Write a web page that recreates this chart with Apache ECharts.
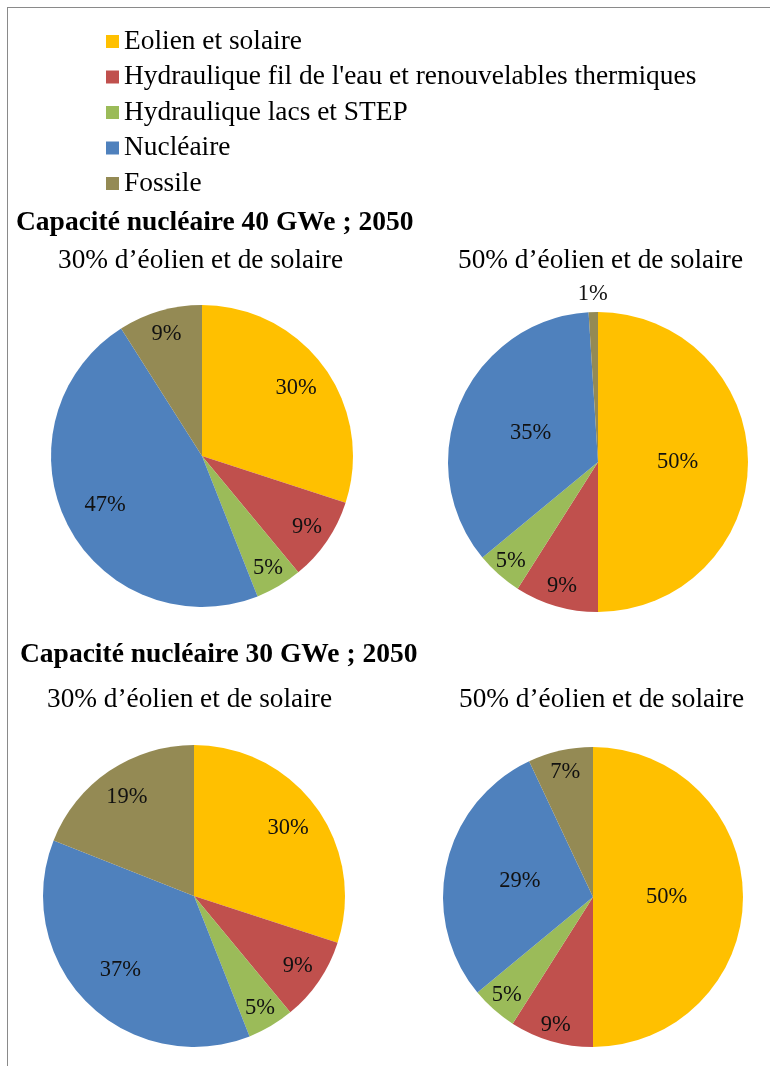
<!DOCTYPE html>
<html>
<head>
<meta charset="utf-8">
<script src="https://cdn.jsdelivr.net/npm/echarts/dist/echarts.min.js"></script>
<style>
html, body { margin:0; padding:0; background:#fff; }
#chart { width:770px; height:1066px; }
#frame { position:absolute; left:7px; top:7px; right:0; bottom:0; border-left:1px solid #8a8a8a; border-top:1px solid #8a8a8a; pointer-events:none; }
</style>
</head>
<body>
<div id="chart"></div>
<div id="frame"></div>
<script>
// categories (legend order = slice order, clockwise from 12 o'clock)
const categories = ['Eolien et solaire', "Hydraulique fil de l'eau et renouvelables thermiques", 'Hydraulique lacs et STEP', 'Nucléaire', 'Fossile'];
const colors = ['#FFC000', '#C0504D', '#9BBB59', '#4F81BD', '#948A54'];

// shares in %, same order as categories
const cap40_wind30 = [30, 9, 5, 47, 9];
const cap40_wind50 = [50, 9, 5, 35, 1];
const cap30_wind30 = [30, 9, 5, 37, 19];
const cap30_wind50 = [50, 9, 5, 29, 7];

const serif = '"Liberation Serif", "DejaVu Serif", serif';

// layout of the four pies (labelAt = label distance from centre / radius)
const pies = [
    { values: cap40_wind30, center: [202, 456], r: 151, labelAt: [0.75, 0.82, 0.84, 0.70, 0.82] },
    { values: cap40_wind50, center: [598, 462], r: 150, labelAt: [0.51, 0.84, 0.86, 0.47, 1.10] },
    { values: cap30_wind30, center: [194, 896], r: 151, labelAt: [0.75, 0.81, 0.84, 0.67, 0.77] },
    { values: cap30_wind50, center: [593, 897], r: 150, labelAt: [0.47, 0.87, 0.85, 0.48, 0.83] }
];

let series = [];
pies.forEach(function (p) {
    // solid pie
    series.push({
        type: 'pie',
        center: p.center,
        radius: [0, p.r],
        startAngle: 90,
        clockwise: true,
        silent: true,
        label: { show: false },
        labelLine: { show: false },
        emphasis: { disabled: true },
        data: categories.map(function (n, i) {
            return { name: n, value: p.values[i], itemStyle: { color: colors[i] } };
        })
    });
    // transparent thin rings, only used to place each label at its own distance
    p.labelAt.forEach(function (f, k) {
        series.push({
            type: 'pie',
            center: p.center,
            radius: [p.r * (f - 0.02), p.r * (f + 0.02)],
            startAngle: 90,
            clockwise: true,
            silent: true,
            z: 5,
            itemStyle: { color: 'transparent', borderWidth: 0 },
            labelLine: { show: false },
            emphasis: { disabled: true },
            label: {
                show: true,
                position: 'inside',
                rotate: 0,
                formatter: '{c}%',
                fontFamily: serif,
                fontSize: 22.5,
                color: '#111'
            },
            data: categories.map(function (n, i) {
                return { name: n, value: p.values[i], label: { show: i === k } };
            })
        });
    });
});

const titleStyle = { fontFamily: serif, fontSize: 27.5, fontWeight: 'bold', color: '#000' };
const subStyle = { fontFamily: serif, fontSize: 27.3, fontWeight: 'normal', color: '#000' };

const chart = echarts.init(document.getElementById('chart'));
chart.setOption({
    animation: false,
    backgroundColor: '#fff',
    title: [
        { text: 'Capacité nucléaire 40 GWe ; 2050', left: 16, top: 209, padding: 0, textStyle: titleStyle },
        { text: '30% d’éolien et de solaire', left: 58, top: 247, padding: 0, textStyle: subStyle },
        { text: '50% d’éolien et de solaire', left: 458, top: 247, padding: 0, textStyle: subStyle },
        { text: 'Capacité nucléaire 30 GWe ; 2050', left: 20, top: 641, padding: 0, textStyle: titleStyle },
        { text: '30% d’éolien et de solaire', left: 47, top: 686, padding: 0, textStyle: subStyle },
        { text: '50% d’éolien et de solaire', left: 459, top: 686, padding: 0, textStyle: subStyle }
    ],
    legend: {
        orient: 'vertical',
        left: 106,
        top: 28,
        padding: 0,
        itemGap: 8.5,
        itemWidth: 13,
        itemHeight: 13,
        icon: 'rect',
        selectedMode: false,
        data: categories.map(function (n, i) { return { name: n, itemStyle: { color: colors[i] } }; }),
        textStyle: { fontFamily: serif, fontSize: 27.4, lineHeight: 27, color: '#000', padding: [0, 0, 0, 0] }
    },
    series: series
});
</script>
</body>
</html>
